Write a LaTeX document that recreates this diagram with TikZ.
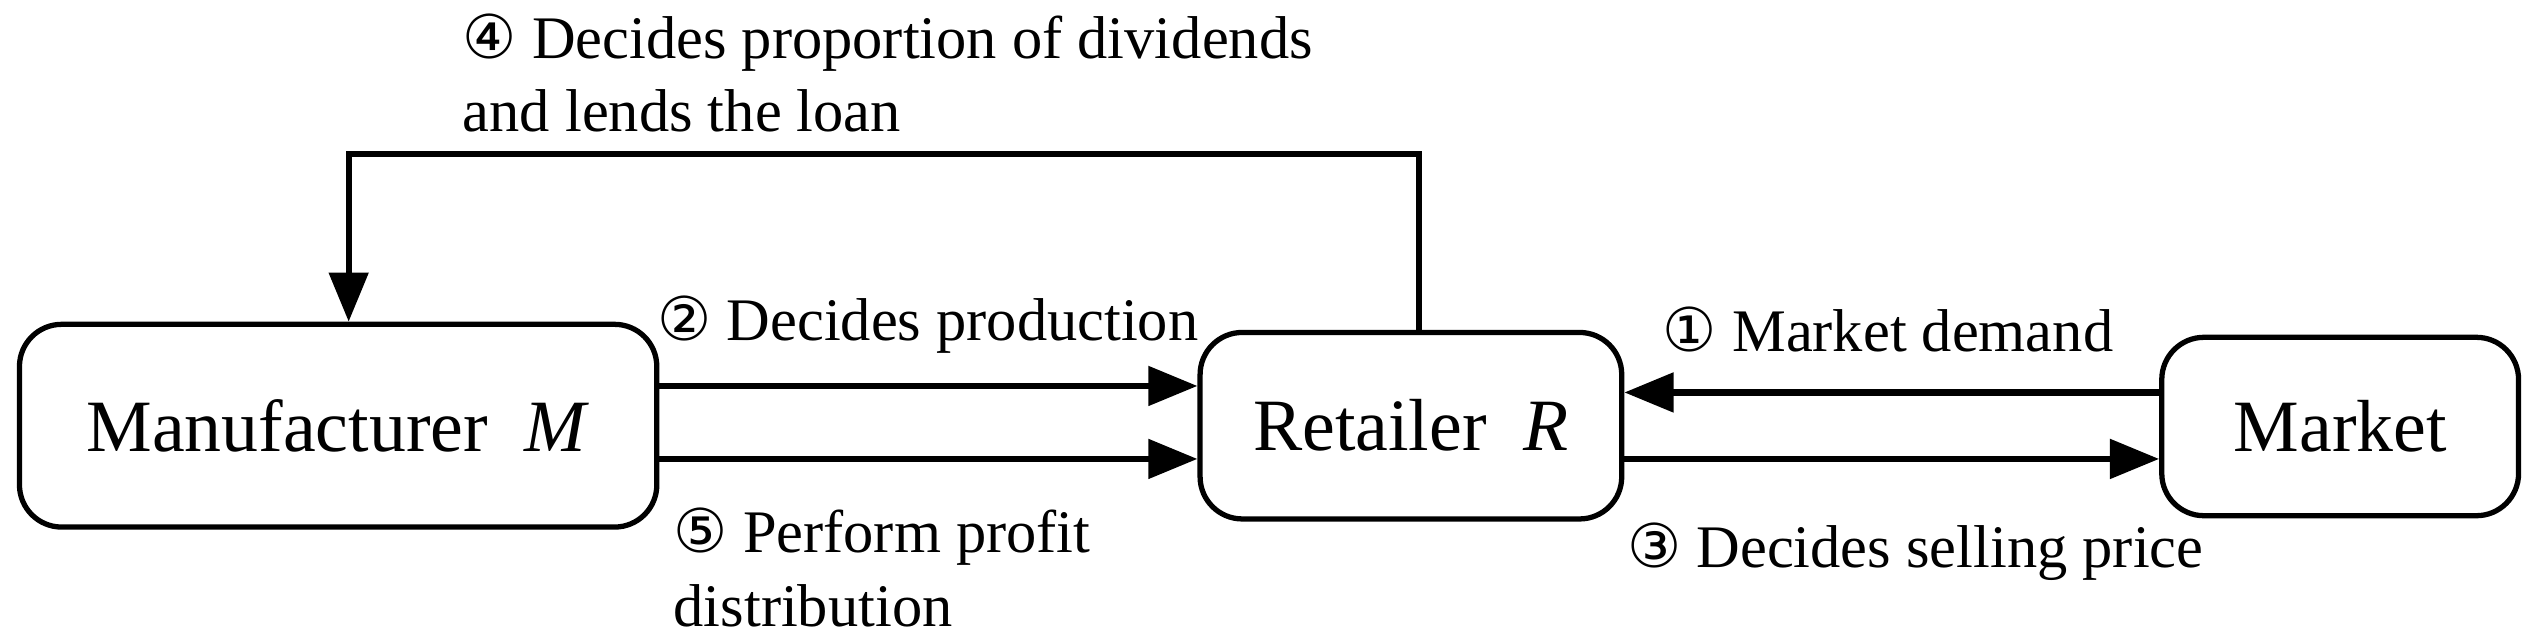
\documentclass[tikz,border=0pt]{standalone}
\usepackage{fontspec}
\setmainfont{Liberation Serif}
\newfontfamily\circfont{DejaVu Sans}
\usetikzlibrary{arrows.meta}
\newcommand{\cn}[1]{{\circfont #1}}
\begin{document}
\begin{tikzpicture}[x=0.01622cm,y=-0.01622cm,
  box/.style={draw,line width=1.5pt,rounded corners=12pt,inner sep=0pt,font=\fontsize{21}{25}\selectfont},
  arr/.style={line width=1.8pt,-{Triangle[length=14pt,width=11pt]}},
  lbl/.style={font=\fontsize{17.2}{21}\selectfont,align=left,inner sep=0pt}]
\useasboundingbox (0,0) rectangle (1565,392);
\node[box,minimum width=393*0.01622cm,minimum height=125*0.01622cm] (M) at (208.5,262.5) {Manufacturer\ \ \textit{M}};
\node[box,minimum width=260*0.01622cm,minimum height=115*0.01622cm] (R) at (870,262.5) {Retailer\ \ \textit{R}};
\node[box,minimum width=220*0.01622cm,minimum height=110*0.01622cm] (K) at (1443,263) {Market};
\coordinate (t1) at (875,95);
\coordinate (t2) at (215,95);
\draw[arr] (R.north -| t1) -- (t1) -- (t2) -- (M.north -| t2);
\draw[arr] (M.east |- 0,238) -- (R.west |- 0,238);
\draw[arr] (M.east |- 0,283) -- (R.west |- 0,283);
\draw[arr] (K.west |- 0,242) -- (R.east |- 0,242);
\draw[arr] (R.east |- 0,283) -- (K.west |- 0,283);
\node[lbl,anchor=west] (l4) at (285,45) {\cn{④} Decides proportion of dividends\\and lends the loan};
\node[lbl,anchor=west] (l2) at (405,200) {\cn{②} Decides production};
\node[lbl,anchor=west] (l5) at (415,350) {\cn{⑤}\ Perform profit\\distribution};
\node[lbl,anchor=west] (l1) at (1025,203) {\cn{①}\ Market demand};
\node[lbl,anchor=west] (l3) at (1003,340) {\cn{③} Decides selling price};
\end{tikzpicture}
\end{document}
